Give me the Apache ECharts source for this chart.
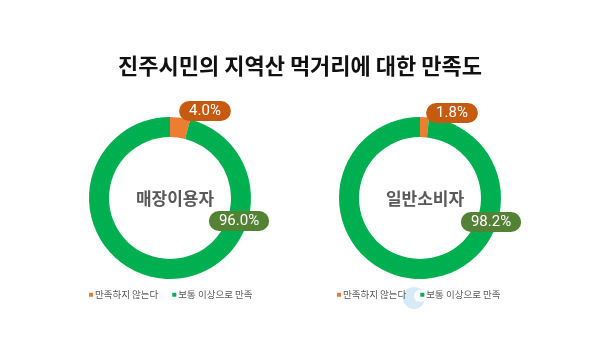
<!DOCTYPE html>
<html>
<head>
<meta charset="utf-8">
<script src="https://cdn.jsdelivr.net/npm/echarts@6/dist/echarts.min.js"></script>
<style>
  html, body { margin: 0; padding: 0; background: #ffffff; }
  #chart { width: 600px; height: 337px; }
</style>
</head>
<body>
<div id="chart"></div>
<script>
// 만족도 응답 범주
const categories = ['만족하지 않는다', '보통 이상으로 만족'];
// 응답 집단
const groups = ['매장이용자', '일반소비자'];
// 집단별 응답 비율(%)
const storeUsers = [4.0, 96.0];
const consumers = [1.8, 98.2];

const sliceColors = ['#ED7D31', '#00B050'];
const labelColors = ['#C55A11', '#548235'];
const FONT = '"Noto Sans CJK KR", "Noto Sans", sans-serif';

// 도넛 중심(px)과 값 라벨 위치(px)
const centers = [[170, 198], [420, 198]];
const labelSpots = [
  [[205, 111], [239, 221]],
  [[452, 113], [491, 222]]
];

function pieSeries(idx, values) {
  return {
    type: 'pie',
    name: groups[idx],
    center: centers[idx],
    radius: [61, 81],
    startAngle: 90,
    clockwise: true,
    avoidLabelOverlap: false,
    silent: true,
    labelLine: { show: false },
    label: {
      show: true,
      position: 'outside',
      formatter: p => p.value.toFixed(1) + '%',
      color: '#ffffff',
      fontFamily: 'Roboto, "Noto Sans", sans-serif',
      fontSize: 15,
      fontWeight: 'normal',
      padding: [2, 10, 2, 10],
      borderRadius: 10,
      lineHeight: 16
    },
    labelLayout: function (p) {
      const s = labelSpots[idx][p.dataIndex];
      return { x: s[0], y: s[1], align: 'center', verticalAlign: 'middle', moveOverlap: null };
    },
    data: values.map((v, i) => ({
      name: categories[i],
      value: v,
      itemStyle: { color: sliceColors[i] },
      label: { backgroundColor: labelColors[i] }
    }))
  };
}

const legendBase = {
  data: categories,
  icon: 'rect',
  itemWidth: 4,
  itemHeight: 4,
  itemGap: 14,
  selectedMode: false,
  textStyle: { color: '#595959', fontSize: 9.5, fontFamily: FONT, padding: [0, 0, 0, -3] }
};

const chart = echarts.init(document.getElementById('chart'), null, { renderer: 'canvas' });
chart.setOption({
  backgroundColor: '#ffffff',
  animation: false,
  title: [
    {
      text: '진주시민의 지역산 먹거리에 대한 만족도',
      left: 'center',
      top: 50,
      textStyle: { color: '#111111', fontSize: 22, fontWeight: 'bold', fontFamily: FONT }
    },
    {
      text: groups[0],
      left: centers[0][0],
      top: centers[0][1] - 13,
      textAlign: 'center',
      textStyle: { color: '#595959', fontSize: 17, fontWeight: 'bold', fontFamily: FONT }
    },
    {
      text: groups[1],
      left: centers[1][0],
      top: centers[1][1] - 13,
      textAlign: 'center',
      textStyle: { color: '#595959', fontSize: 17, fontWeight: 'bold', fontFamily: FONT }
    }
  ],
  legend: [
    Object.assign({}, legendBase, { left: 84, top: 285 }),
    Object.assign({}, legendBase, { left: 332, top: 285 })
  ],
  graphic: [
    {
      type: 'group',
      z: -1,
      children: [
        { type: 'circle', shape: { cx: 414, cy: 298, r: 11 }, style: { fill: '#d6eaf8' } },
        { type: 'circle', shape: { cx: 420, cy: 296, r: 6 }, style: { fill: '#ffffff' } }
      ]
    }
  ],
  series: [pieSeries(0, storeUsers), pieSeries(1, consumers)]
});
</script>
</body>
</html>
